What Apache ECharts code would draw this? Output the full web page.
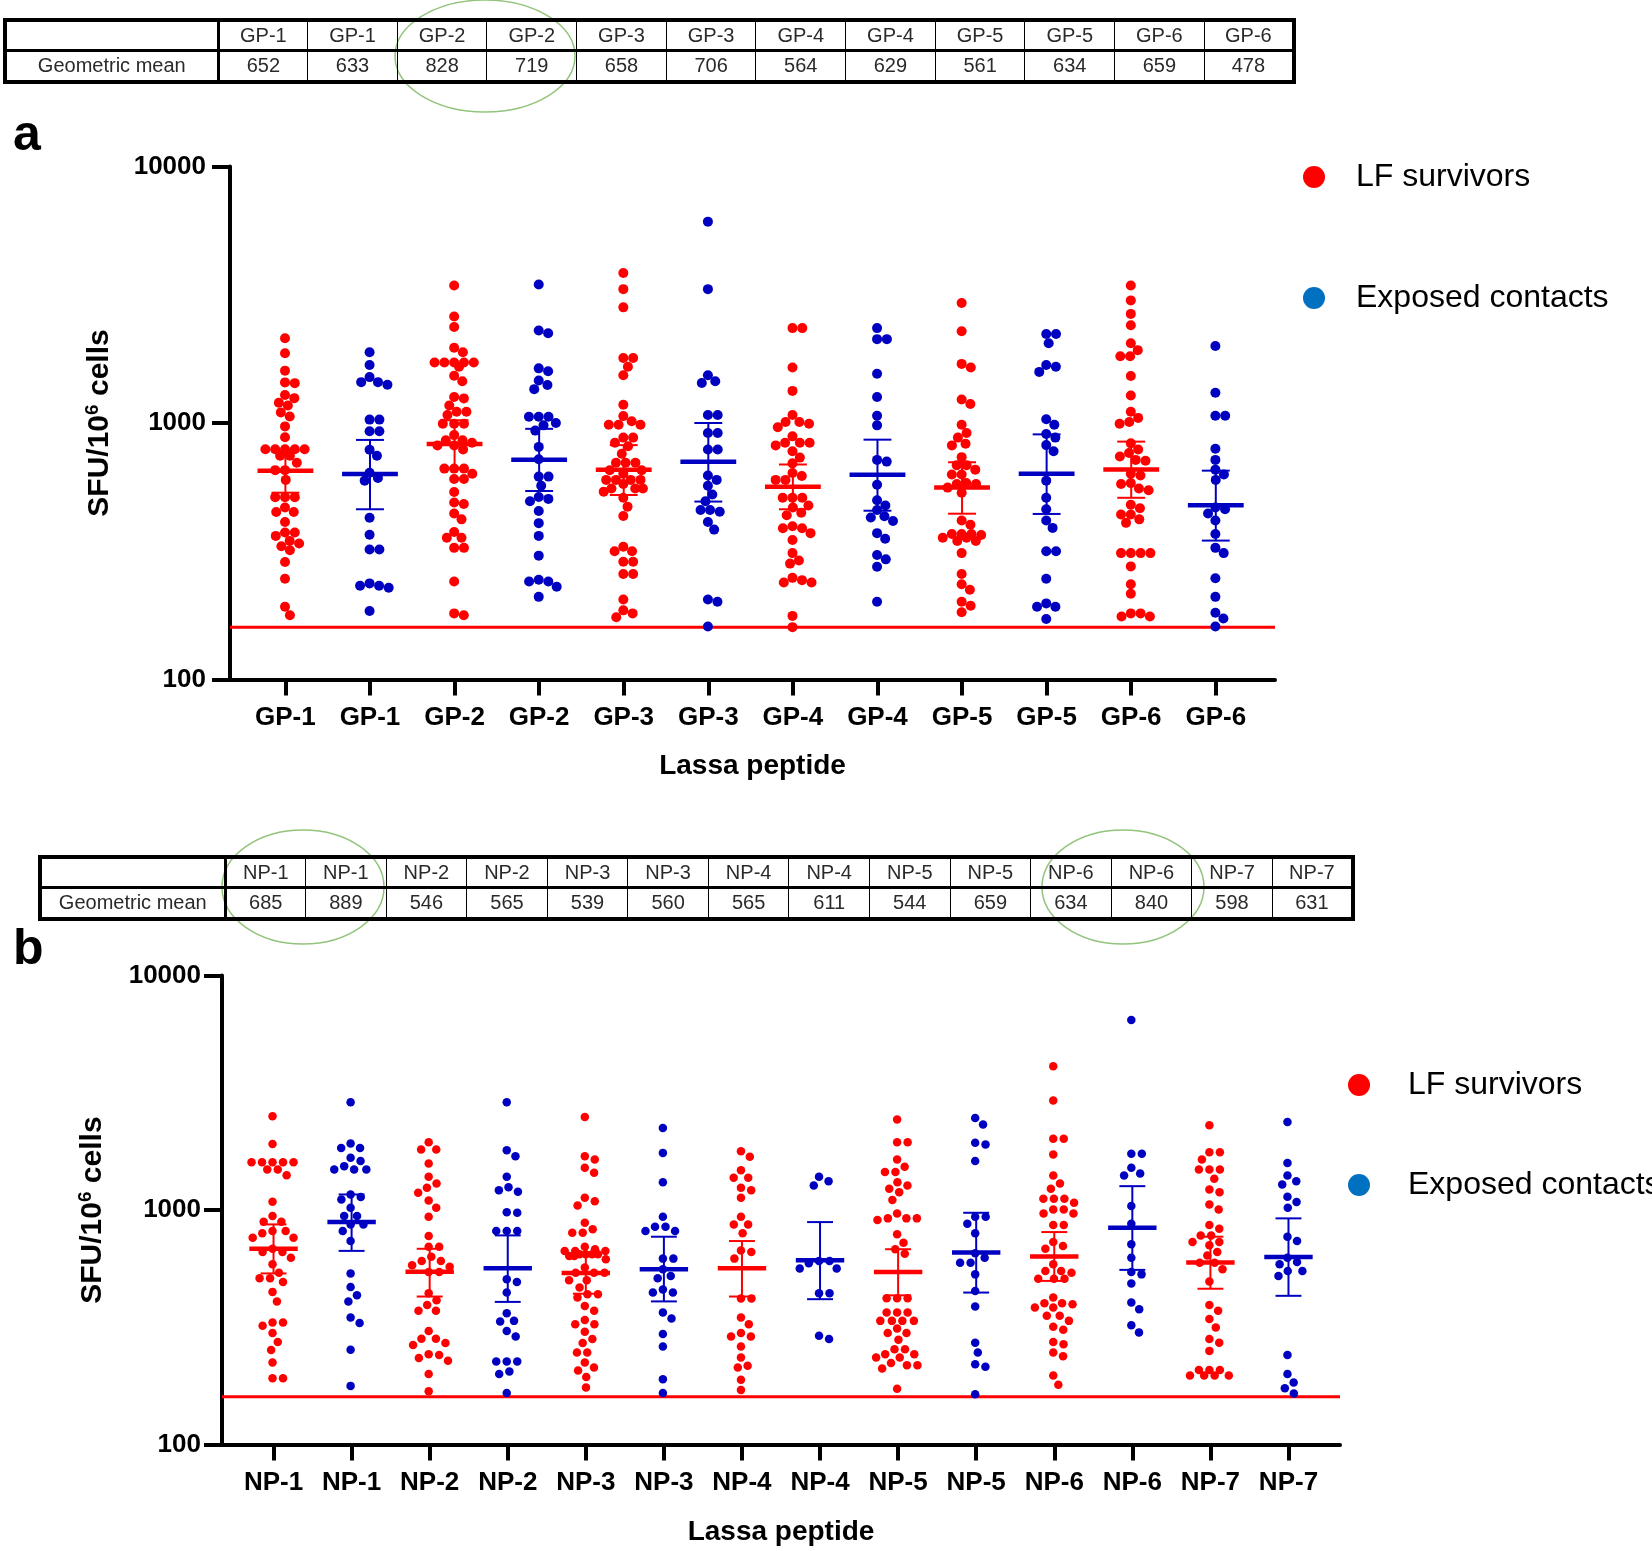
<!DOCTYPE html>
<html>
<head>
<meta charset="UTF-8">
<title>Lassa peptide responses</title>
<script src="https://cdn.jsdelivr.net/npm/echarts@6/dist/echarts.min.js"></script>
<style>
  html, body { margin: 0; padding: 0; background: #fff; }
  #wrap { position: relative; width: 1652px; height: 1551px; }
  #chart { position: absolute; left: 0; top: 0; width: 1652px; height: 1551px; }
  .tbl { position: absolute; border-collapse: collapse; table-layout: fixed;
         font-family: 'Liberation Sans', Arial, sans-serif; font-size: 20px; color: #2a2a2a;
         border: 4px solid #000; background: transparent; pointer-events: none; }
  .tbl td { border: 1px solid #000; text-align: center; padding: 0; white-space: nowrap; }
  .tbl tr:first-child td { border-bottom: 3px solid #000; }
  .tbl td:first-child { border-right: 3px solid #000; }
</style>
</head>
<body>
<div id="wrap">
  <div id="chart"></div>
  <table class="tbl" id="tblA" style="left:3px; top:18px; width:1293px;"></table>
  <table class="tbl" id="tblB" style="left:38px; top:855px; width:1317px;"></table>
</div>
<script>
// ---- data ----
var gpCategories = ['GP-1','GP-1','GP-2','GP-2','GP-3','GP-3','GP-4','GP-4','GP-5','GP-5','GP-6','GP-6'];
var npCategories = ['NP-1','NP-1','NP-2','NP-2','NP-3','NP-3','NP-4','NP-4','NP-5','NP-5','NP-6','NP-6','NP-7','NP-7'];

// geometric means (table) and 95% CI
var gpMeans  = [652, 633, 828, 719, 658, 706, 564, 629, 561, 634, 659, 478];
var gpCiLow  = [535, 461, 664, 543, 524, 494, 461, 455, 443, 442, 511, 348];
var gpCiHigh = [776, 859, 1025, 949, 820, 1000, 689, 861, 703, 903, 846, 652];
var npMeans  = [685, 889, 546, 565, 539, 560, 565, 611, 544, 659, 634, 840, 598, 631];
var npCiLow  = [537, 670, 428, 406, 440, 408, 428, 417, 433, 445, 499, 556, 462, 431];
var npCiHigh = [869, 1166, 684, 780, 655, 770, 738, 889, 681, 974, 806, 1265, 770, 922];

var detectionLimit = 160;

// LF survivors (red) / exposed contacts (blue), SFU per 10^6 cells
var gp1Red = [2140,1870,1600,1440,1430,1285,1250,1200,1170,1100,1060,970,880,790,790,790,790,790,745,745,700,655,655,600,514,514,514,468,450,450,411,374,374,363,347,339,331,319,287,247,192,178];
var gp1Blue = [1888,1683,1510,1443,1443,1410,1031,1031,929,929,787,745,640,611,596,427,367,321,321,237,232,232,228,185];
var gp2Red = [3436,2600,2367,1965,1888,1721,1721,1721,1721,1721,1657,1528,1455,1262,1247,1171,1107,1107,1074,994,994,994,897,857,857,838,818,818,788,664,664,664,634,605,605,538,490,483,444,421,376,357,357,326,326,241,181,178];
var gp2Blue = [3467,2296,2240,1633,1592,1465,1407,1355,1057,1057,1057,1000,979,934,807,722,618,618,569,515,506,495,454,407,363,304,245,241,241,230,210];
var gp3Red = [3846,3326,2824,1791,1791,1657,1534,1178,1064,1016,985,985,985,877,877,838,812,759,700,700,700,654,654,634,600,600,600,600,578,555,555,555,540,511,472,434,329,316,316,288,288,258,258,205,186,181,175];
var gp3Blue = [6095,3326,1534,1455,1432,1074,1074,914,914,788,788,624,600,569,526,495,458,458,451,411,384,205,201,161];
var gp4Red = [2344,2344,1647,1334,1074,1009,1009,994,963,887,838,838,838,818,776,733,696,638,621,600,600,511,511,511,477,468,447,437,396,389,389,372,350,311,291,283,249,244,239,239,177,160];
var gp4Blue = [2344,2123,2123,1557,1262,1067,979,718,707,574,500,477,458,433,428,415,372,354,306,294,275,201];
var gp5Red = [2938,2280,1700,1647,1235,1186,985,914,877,830,818,736,685,685,658,630,630,583,578,578,560,535,417,401,369,369,369,366,357,357,347,347,311,258,235,224,201,194,183];
var gp5Blue = [2223,2223,2046,1683,1657,1582,1035,985,906,877,820,776,596,511,461,417,390,316,316,247,198,192,192,172];
var gp6Red = [3436,3006,2663,2404,2046,1923,1820,1820,1525,1281,1107,1047,1009,994,833,788,764,740,718,713,634,624,583,578,555,547,480,465,440,440,421,408,311,311,311,311,276,235,216,181,181,176,176];
var gp6Blue = [1995,1313,1067,1067,793,718,658,630,600,468,461,444,417,369,326,311,248,210,182,173,161];

var np1Red = [2512,1915,1600,1600,1600,1600,1600,1489,1489,1409,1085,943,892,892,814,814,796,763,763,685,662,662,627,587,541,512,512,494,448,408,332,332,321,299,274,253,224,192,192];
var np1Blue = [2884,1923,1838,1838,1671,1618,1540,1489,1489,1489,1166,1136,1110,1023,943,943,869,869,814,738,536,470,433,408,348,330,254,178];
var np2Red = [1945,1811,1811,1581,1387,1298,1245,1185,1099,1023,937,775,698,698,633,607,607,582,574,545,545,442,413,394,372,372,305,283,283,271,266,243,241,234,228,200,169];
var np2Blue = [2884,1799,1698,1387,1253,1216,1197,980,974,814,814,814,507,494,445,363,337,335,305,289,226,226,226,205,200,166];
var np3Red = [2493,1698,1643,1514,1442,1128,1092,1047,883,828,801,801,698,681,670,670,670,648,648,648,648,637,637,617,569,541,541,541,502,502,468,438,438,424,390,372,340,326,326,303,282,271,247,247,224,213,207,194,175];
var np3Blue = [2240,1754,1315,937,850,850,814,814,621,621,560,524,512,459,445,445,366,345,296,262,190,166];
var np4Red = [1783,1687,1480,1374,1374,1245,1216,1128,937,869,869,796,673,662,621,420,420,348,326,299,289,289,262,235,217,213,189,171];
var np4Blue = [1387,1328,1274,607,607,593,563,563,442,442,291,282];
var np5Red = [2432,1945,1945,1643,1529,1455,1455,1315,1274,1233,1193,1103,968,922,922,922,908,788,726,681,652,421,421,421,366,366,366,337,337,337,337,313,299,299,280,255,255,243,243,235,235,223,218,218,211,173];
var np5Blue = [2472,2317,1936,1903,1618,937,937,875,796,655,627,597,597,532,452,388,272,247,220,215,164];
var np6Red = [4102,2930,2017,2017,1726,1405,1298,1233,1117,1117,1117,1074,1007,1007,968,968,863,863,731,703,685,587,550,550,541,510,510,510,424,401,401,397,384,384,354,354,337,318,309,274,268,247,238,197,180];
var np6Blue = [6471,1738,1738,1514,1432,1405,1040,875,715,627,545,532,486,404,378,323,301];
var np7Red = [2301,1766,1766,1643,1489,1489,1489,1359,1225,1193,1057,1007,863,833,780,780,731,731,708,662,641,597,597,560,496,394,372,343,316,282,272,251,208,208,208,197,197,197,197];
var np7Blue = [2376,1589,1405,1328,1286,1139,1082,1023,770,738,627,601,587,550,550,524,241,200,184,174,165];

var gpRed = [gp1Red, gp2Red, gp3Red, gp4Red, gp5Red, gp6Red];
var gpBlue = [gp1Blue, gp2Blue, gp3Blue, gp4Blue, gp5Blue, gp6Blue];
var npRed = [np1Red, np2Red, np3Red, np4Red, np5Red, np6Red, np7Red];
var npBlue = [np1Blue, np2Blue, np3Blue, np4Blue, np5Blue, np6Blue, np7Blue];

// ---- layout ----
var RED = '#ff0000', BLUE = '#0000c0';
var FONT = "'Liberation Sans', Arial, sans-serif";
var gridA = { left: 230, top: 166.5, width: 1045, height: 513 };
var gridB = { left: 222, top: 975.6, width: 1118, height: 469 };
var xRangeA = [-0.655, 11.70];
var xRangeB = [-0.66, 13.66];

// fill the two tables from the arrays
function fillTable(id, cats, means, firstW) {
  var t = document.getElementById(id);
  var cg = '<colgroup><col style="width:' + firstW + 'px">';
  cats.forEach(function () { cg += '<col>'; });
  cg += '</colgroup>';
  var r1 = '<tr style="height:30px"><td></td>', r2 = '<tr style="height:32px"><td>Geometric mean</td>';
  cats.forEach(function (c, i) { r1 += '<td>' + c + '</td>'; r2 += '<td>' + means[i] + '</td>'; });
  t.innerHTML = cg + r1 + '</tr>' + r2 + '</tr>';
}
fillTable('tblA', gpCategories, gpMeans, 213);
fillTable('tblB', npCategories, npMeans, 185);

// beeswarm: each dot goes to the free spot nearest the column centre,
// within a capped width; if the band is full it takes the least crowded spot
function swarm(vals, pxPerDecade, gap, maxHalf) {
  var order = vals.map(function (v, i) { return i; }).sort(function (a, b) { return vals[b] - vals[a]; });
  var ys = vals.map(function (v) { return -Math.log10(v) * pxPerDecade; });
  var off = vals.map(function () { return 0; });
  var placed = [];
  order.forEach(function (k, n) {
    var y = ys[k];
    var near = placed.filter(function (p) { return Math.abs(p[1] - y) < gap; });
    var cands = [];
    for (var g = -maxHalf; g <= maxHalf + 1e-6; g += gap / 4) cands.push(g);
    near.forEach(function (p) {
      var dx = Math.sqrt(gap * gap - (p[1] - y) * (p[1] - y));
      [p[0] + dx, p[0] - dx].forEach(function (c) { if (Math.abs(c) <= maxHalf + 1e-6) cands.push(c); });
    });
    var side = n % 2 ? 1 : -1;
    cands.sort(function (a, b) { return (Math.abs(a) - Math.abs(b)) || (a - b) * side; });
    var best = 0, bestD = -1;
    for (var c = 0; c < cands.length; c++) {
      var x = cands[c], d = Infinity;
      near.forEach(function (p) { d = Math.min(d, Math.sqrt((p[0] - x) * (p[0] - x) + (p[1] - y) * (p[1] - y))); });
      if (d >= gap - 0.5) { best = x; break; }
      if (d > bestD + 0.5) { bestD = d; best = x; }
    }
    off[k] = best;
    placed.push([best, y]);
  });
  return off;
}

function buildPoints(cols, first, grid, xr, gap, maxHalf) {
  var pxPerUnit = grid.width / (xr[1] - xr[0]);
  var pxPerDecade = grid.height / 2;
  var out = [];
  cols.forEach(function (vals, ci) {
    var off = swarm(vals, pxPerDecade, gap, maxHalf);
    vals.forEach(function (v, k) { out.push([first + 2 * ci + off[k] / pxPerUnit, v]); });
  });
  return out;
}

function meanRows(means, lo, hi) {
  return means.map(function (m, i) { return [i, m, lo[i], hi[i], i % 2]; });
}

function meanSeries(idx, rows, halfMean, halfCap) {
  return {
    type: 'custom', xAxisIndex: idx, yAxisIndex: idx, z: 5, silent: true,
    data: rows,
    renderItem: function (params, api) {
      var x = api.value(0);
      var c = api.coord([x, api.value(1)]);
      var lo = api.coord([x, api.value(2)]);
      var hi = api.coord([x, api.value(3)]);
      var hm = api.size([halfMean, 0])[0], hc = api.size([halfCap, 0])[0];
      var col = api.value(4) === 0 ? RED : BLUE;
      var thin = { stroke: col, lineWidth: 2 };
      return { type: 'group', children: [
        { type: 'line', shape: { x1: c[0], y1: hi[1], x2: c[0], y2: lo[1] }, style: thin },
        { type: 'line', shape: { x1: c[0] - hc, y1: hi[1], x2: c[0] + hc, y2: hi[1] }, style: thin },
        { type: 'line', shape: { x1: c[0] - hc, y1: lo[1], x2: c[0] + hc, y2: lo[1] }, style: thin },
        { type: 'line', shape: { x1: c[0] - hm, y1: c[1], x2: c[0] + hm, y2: c[1] }, style: { stroke: col, lineWidth: 4.5 } }
      ] };
    }
  };
}

function xAxis(idx, cats, xr, nameGap) {
  var ticks = cats.map(function (c, i) { return i; });
  return {
    type: 'value', gridIndex: idx, min: xr[0], max: xr[1],
    name: 'Lassa peptide', nameLocation: 'middle', nameGap: nameGap,
    nameTextStyle: { fontFamily: FONT, fontSize: 28, fontWeight: 'bold', color: '#000' },
    axisLine: { onZero: false, lineStyle: { color: '#000', width: 4 } },
    axisTick: { show: true, customValues: ticks, length: 16, lineStyle: { color: '#000', width: 4 } },
    axisLabel: { customValues: ticks, margin: 25, fontFamily: FONT, fontSize: 26, fontWeight: 'bold', color: '#000',
                 formatter: function (v) { return cats[Math.round(v)]; } },
    splitLine: { show: false }
  };
}

function yAxis(idx, margin, nameGap) {
  return {
    type: 'log', logBase: 10, gridIndex: idx, min: 100, max: 10000,
    name: '{n|SFU/10}{s|6}{n| cells}', nameLocation: 'middle', nameGap: nameGap, nameRotate: 90,
    nameTextStyle: { rich: {
      n: { fontFamily: FONT, fontSize: 30, fontWeight: 'bold', color: '#000' },
      s: { fontFamily: FONT, fontSize: 19, fontWeight: 'bold', color: '#000', padding: [0, 0, 15, 0] }
    } },
    axisLine: { onZero: false, lineStyle: { color: '#000', width: 4 } },
    axisTick: { show: true, customValues: [100, 1000, 10000], length: 18, lineStyle: { color: '#000', width: 4 } },
    axisLabel: { customValues: [100, 1000, 10000], margin: margin, fontFamily: FONT, fontSize: 26, fontWeight: 'bold', color: '#000',
                 formatter: function (v) { return String(Math.round(v)); } },
    splitLine: { show: false }
  };
}

function scatter(name, idx, data, color, size) {
  return { type: 'scatter', name: name, xAxisIndex: idx, yAxisIndex: idx, z: 3, silent: true,
           symbol: 'circle', symbolSize: size, itemStyle: { color: color, opacity: 1 }, data: data };
}

function limitLine(idx, xr) {
  return { type: 'line', xAxisIndex: idx, yAxisIndex: idx, z: 2, silent: true, symbol: 'none',
           lineStyle: { color: RED, width: 3 }, data: [[xr[0], detectionLimit], [xr[1], detectionLimit]] };
}

function legend(left, top, gap, pad) {
  return {
    orient: 'vertical', left: left, top: top, itemGap: gap, itemWidth: 22, itemHeight: 22,
    selectedMode: false,
    textStyle: { fontFamily: FONT, fontSize: 32, color: '#000', lineHeight: 34, padding: [0, 0, 0, pad] },
    data: [
      { name: 'LF survivors', icon: 'circle', itemStyle: { color: RED } },
      { name: 'Exposed contacts', icon: 'circle', itemStyle: { color: '#0070c0' } }
    ]
  };
}

var chart = echarts.init(document.getElementById('chart'), null, { renderer: 'canvas' });
chart.setOption({
  animation: false,
  backgroundColor: '#fff',
  title: [
    { text: 'a', left: 8, top: 106, textStyle: { fontFamily: FONT, fontSize: 50, fontWeight: 'bold', color: '#000', lineHeight: 50 } },
    { text: 'b', left: 8, top: 920, textStyle: { fontFamily: FONT, fontSize: 50, fontWeight: 'bold', color: '#000', lineHeight: 50 } }
  ],
  legend: [legend(1298, 155, 87, 26), legend(1343, 1063, 66, 33)],
  grid: [gridA, gridB],
  xAxis: [xAxis(0, gpCategories, xRangeA, 73), xAxis(1, npCategories, xRangeB, 74)],
  yAxis: [yAxis(0, 24, 113), yAxis(1, 21, 112)],
  graphic: [
    { type: 'ellipse', z: 100, silent: true, shape: { cx: 485, cy: 56, rx: 90, ry: 56 }, style: { fill: null, stroke: '#93c47d', lineWidth: 1.5 } },
    { type: 'ellipse', z: 100, silent: true, shape: { cx: 303, cy: 887, rx: 81, ry: 57 }, style: { fill: null, stroke: '#93c47d', lineWidth: 1.5 } },
    { type: 'ellipse', z: 100, silent: true, shape: { cx: 1123, cy: 887, rx: 81, ry: 57 }, style: { fill: null, stroke: '#93c47d', lineWidth: 1.5 } }
  ],
  series: [
    limitLine(0, xRangeA),
    scatter('LF survivors', 0, buildPoints(gpRed, 0, gridA, xRangeA, 9.8, 20), RED, 10),
    scatter('Exposed contacts', 0, buildPoints(gpBlue, 1, gridA, xRangeA, 9.8, 20), BLUE, 10),
    meanSeries(0, meanRows(gpMeans, gpCiLow, gpCiHigh), 0.33, 0.165),
    limitLine(1, xRangeB),
    scatter('LF survivors', 1, buildPoints(npRed, 0, gridB, xRangeB, 10.5, 22), RED, 8.5),
    scatter('Exposed contacts', 1, buildPoints(npBlue, 1, gridB, xRangeB, 10.5, 22), BLUE, 8.5),
    meanSeries(1, meanRows(npMeans, npCiLow, npCiHigh), 0.31, 0.166)
  ]
});
</script>
</body>
</html>
